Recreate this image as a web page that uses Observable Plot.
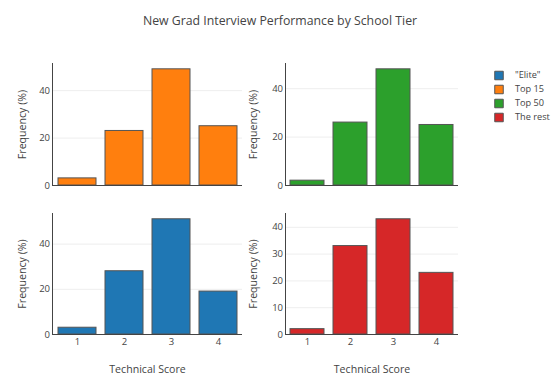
<!DOCTYPE html>
<html>
<head>
<meta charset="utf-8">
<script src="https://cdn.jsdelivr.net/npm/d3@7"></script>
<script src="https://cdn.jsdelivr.net/npm/@observablehq/plot@0.6"></script>
<style>
  html, body { margin: 0; padding: 0; background: #fff; }
  #chart { position: relative; width: 560px; height: 389px; font-family: "Open Sans", sans-serif; color: #444; overflow: hidden; }
  #chart svg { position: absolute; overflow: visible; }
  #title { position: absolute; left: 0; width: 560px; top: 11px; text-align: center; font-size: 12.3px; line-height: 20px; color: #444; }
</style>
</head>
<body>
<div id="chart">
  <div id="title">New Grad Interview Performance by School Tier</div>
</div>
<script>
// ---- data ----
const scores = ["1", "2", "3", "4"];
const tiers = ['"Elite"', "Top 15", "Top 50", "The rest"];
const tierColors = ["#1f77b4", "#ff7f0e", "#2ca02c", "#d62728"];
const elite = [3, 28, 51, 19];
const top15 = [3, 23, 49, 25];
const top50 = [2, 26, 48, 25];
const rest = [2, 33, 43, 23];
const ticks20 = [0, 20, 40];
const ticks10 = [0, 10, 20, 30, 40];
const yLabel = "Frequency (%)";
const xLabel = "Technical Score";

const chart = document.getElementById("chart");

function panel({values, color, yTicks, showX, left, top, width, height, mL, mR, mT, mB, yLabelOffset}) {
  const data = scores.map((s, i) => ({score: s, freq: values[i]}));
  const yMax = d3.max(values) * 1.05; // plotly-style autorange
  const marks = [
    Plot.gridY(yTicks.filter(t => t > 0), {stroke: "#eee", strokeOpacity: 1}),
    Plot.barY(data, {x: "score", y: "freq", fill: color, stroke: "#555", strokeWidth: 1}),
    Plot.axisY(yTicks, {tickSize: 0, tickPadding: 2.5, fontSize: 9.5, fill: "#444", label: null}),
    Plot.axisY({ticks: [], tickSize: 0, fontSize: 10.6, fill: "#444",
      label: yLabel, labelAnchor: "center", labelArrow: "none", labelOffset: yLabelOffset}),
    Plot.ruleY([0], {stroke: "#444", strokeWidth: 1}),
    Plot.frame({anchor: "left", stroke: "#444", strokeWidth: 1})
  ];
  if (showX) {
    marks.push(Plot.axisX({tickSize: 0, tickPadding: 4, fontSize: 9.5, fill: "#444", label: null}));
    marks.push(Plot.axisX({ticks: [], tickSize: 0, fontSize: 10.6, fill: "#444",
      label: xLabel, labelAnchor: "center", labelArrow: "none", labelOffset: 38}));
  } else {
    marks.push(Plot.axisX({ticks: [], label: null}));
  }
  const svg = Plot.plot({
    width, height,
    marginLeft: mL, marginRight: mR, marginTop: mT, marginBottom: mB,
    style: {fontFamily: "Open Sans, sans-serif", color: "#444", background: "transparent", overflow: "visible"},
    x: {domain: scores, paddingInner: 0.2, paddingOuter: 0.1},
    y: {domain: [0, yMax]},
    marks
  });
  svg.style.left = left + "px";
  svg.style.top = top + "px";
  chart.appendChild(svg);
}

panel({values: top15, color: tierColors[1], yTicks: ticks20, showX: false, yLabelOffset: 34.5,
  left: 0, top: 50, width: 250, height: 150, mL: 52, mR: 8, mT: 13, mB: 15});
panel({values: top50, color: tierColors[2], yTicks: ticks20, showX: false, yLabelOffset: 36,
  left: 250, top: 50, width: 230, height: 150, mL: 35, mR: 22, mT: 13, mB: 15});
panel({values: elite, color: tierColors[0], yTicks: ticks20, showX: true, yLabelOffset: 34.5,
  left: 0, top: 200, width: 250, height: 189, mL: 52, mR: 8, mT: 13, mB: 55});
panel({values: rest, color: tierColors[3], yTicks: ticks10, showX: true, yLabelOffset: 36,
  left: 250, top: 200, width: 230, height: 189, mL: 35, mR: 22, mT: 13, mB: 55});

// legend
const legend = Plot.plot({
  width: 80, height: 58,
  marginLeft: 18.5, marginRight: 0, marginTop: 0, marginBottom: 0,
  style: {fontFamily: "Open Sans, sans-serif", fontSize: "9.2px", color: "#444", background: "transparent", overflow: "visible"},
  x: {domain: [0, 1], axis: null},
  y: {domain: tiers, padding: 0.5, axis: null},
  color: {domain: tiers, range: tierColors},
  marks: [
    Plot.dot(tiers, {x: () => 0, y: d => d, fill: d => d, symbol: "square", r: 4.8, stroke: "#555", strokeWidth: 1}),
    Plot.text(tiers, {x: () => 0, y: d => d, text: d => d, dx: 16, textAnchor: "start", fill: "#444"})
  ]
});
legend.style.left = "480px";
legend.style.top = "66.8px";
chart.appendChild(legend);
</script>
</body>
</html>
